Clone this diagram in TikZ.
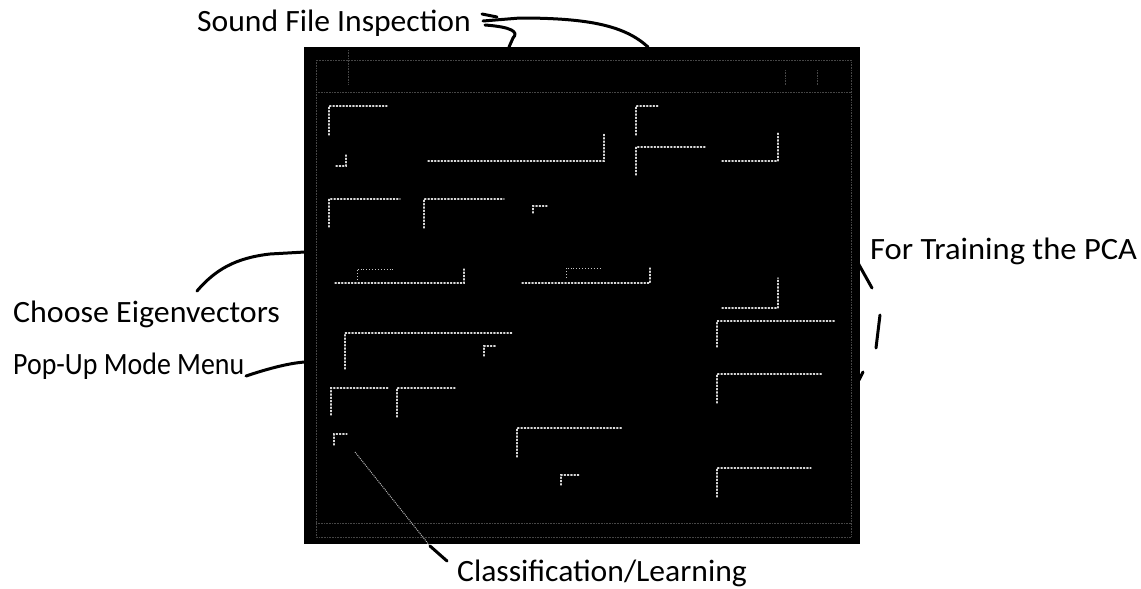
\documentclass[tikz,border=0pt]{standalone}
\usepackage{fontspec}
\usepackage{graphicx}
\setmainfont{Carlito}
\begin{document}
\begin{tikzpicture}[x=1pt,y=-1pt,
  hl/.style={draw=gray!30, line width=1.3pt, dotted, line cap=round},
  hlt/.style={draw=gray!45, line width=0.9pt, dotted},
  fl/.style={draw=gray!55!black, line width=0.6pt, densely dotted},
  ann/.style={draw=black, line width=3pt, line cap=round, line join=round},
  lbl/.style={font=\fontsize{31}{33}\selectfont, anchor=base west, inner sep=0pt, text=black}]
\useasboundingbox[fill=white] (0,0) rectangle (1141,589);
% screenshot
\fill[black] (304,47) rectangle (860,544);
% faint frames
\draw[fl] (316,60) rectangle (851,537);
\draw[fl] (316,92) -- (851,92);
\draw[fl] (316,523) -- (851,523);
\draw[fl] (348,50) -- (348,85);
\draw[fl] (785,70) -- (785,85);
\draw[fl] (817,70) -- (817,85);
% group box corners
\draw[hl] (329,135) -- (329,106) -- (387,106);
\draw[hl] (336,166) -- (346,166) -- (346,155);
\draw[hl] (428,161) -- (604,161) -- (604,133);
\draw[hl] (636,135) -- (636,106) -- (658,106);
\draw[hl] (636,175) -- (636,147) -- (705,147);
\draw[hl] (722,161) -- (778,161) -- (778,133);
\draw[hl] (329,227) -- (329,199) -- (400,199);
\draw[hl] (424,228) -- (424,199) -- (504,199);
\draw[hl] (533,213) -- (533,206) -- (547,206);
\draw[hl] (335,283) -- (464,283) -- (464,269);
\draw[hlt] (357,280) -- (357,269) -- (395,269);
\draw[hl] (522,283) -- (650,283) -- (650,268);
\draw[hlt] (566,278) -- (566,268) -- (602,268);
\draw[hl] (722,308) -- (778,308) -- (778,278);
\draw[hl] (717,347) -- (717,321) -- (835,321);
\draw[hl] (345,369) -- (345,333) -- (513,333);
\draw[hl] (484,356) -- (484,346) -- (497,346);
\draw[hl] (331,415) -- (331,388) -- (388,388);
\draw[hl] (397,417) -- (397,388) -- (455,388);
\draw[hl] (717,403) -- (717,374) -- (823,374);
\draw[hl] (334,445) -- (334,434) -- (347,434);
\draw[hl] (517,457) -- (517,428) -- (623,428);
\draw[hl] (561,485) -- (561,475) -- (580,475);
\draw[hl] (717,497) -- (717,468) -- (811,468);
% labels
\node[lbl] (snd) at (197,31) {\scalebox{1.02}[1]{Sound File Inspection}};
\node[lbl] (pca) at (870,259) {\scalebox{1.05}[1]{For Training the PCA}};
\node[lbl] (eig) at (13,322) {\scalebox{1.03}[1]{Choose Eigenvectors}};
\node[lbl] (pop) at (13,374) {\scalebox{0.9}[1]{Pop-Up Mode Menu}};
\node[lbl] (cls) at (457,581) {\scalebox{1.02}[1]{Classification/Learning}};
% connector ends
\coordinate (sA) at (648,47);
\coordinate (sB) at (509,47);
\coordinate (eA) at (305,252);
\coordinate (pA) at (305,362);
\coordinate (cA) at (430,546);
% connectors
\draw[ann] (482,14) -- (497,17);
\draw[ann] (483,21) -- (520,18) .. controls (590,18) and (625,26) .. (sA);
\draw[ann] (485,25) .. controls (512,27) and (519,32) .. (513,38) -- (sB);
\draw[ann] (197,291) .. controls (215,270) and (235,258) .. (270,254) -- (eA);
\draw[ann] (246,376) .. controls (270,368) and (290,363) .. (pA);
\draw[ann] (858,263) -- (872,288);
\draw[ann] (880,315) -- (876,348);
\draw[ann] (863,372) -- (859,380);
\draw[draw=gray!55, line width=1pt, densely dotted] (355,452) -- (cA);
\draw[ann] (cA) -- (447,561);
\end{tikzpicture}
\end{document}
